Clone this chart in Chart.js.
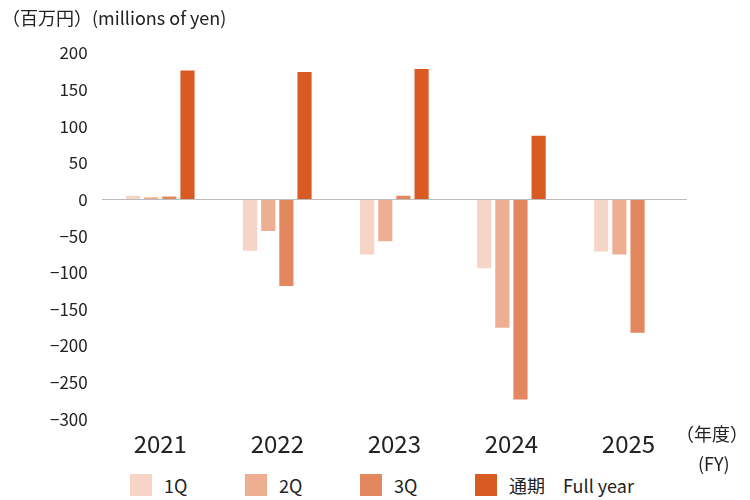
<!DOCTYPE html>
<html><head><meta charset="utf-8">
<script src="https://cdn.jsdelivr.net/npm/chart.js@4"></script>
<style>
body{margin:0;width:750px;height:500px;position:relative;font-family:"Noto Sans CJK JP","Noto Sans",sans-serif;color:#222;background:#fff}
#wrap{position:absolute;left:0;top:0;width:750px;height:460px}
.t{position:absolute;font-size:18px}
.leg{position:absolute;top:472px;font-size:18px;display:flex;align-items:center}
.leg span{display:inline-block;width:22px;height:22px;margin-right:12px}
</style></head><body>
<div id="wrap"><canvas id="myChart"></canvas></div>
<div class="t" style="left:2px;top:4px">（百万円）(millions of yen)</div>
<div class="t" style="left:676px;top:420px">（年度）</div>
<div class="t" style="left:698px;top:450px">(FY)</div>
<div id="legend"></div>
<script>
var years = ['2021', '2022', '2023', '2024', '2025'];
var q1 = [5, -70, -75, -94, -71];
var q2 = [3, -43, -57, -175, -75];
var q3 = [4, -118, 5, -273, -182];
var fullYear = [176, 174, 178, 87, null];
var seriesNames = ['1Q', '2Q', '3Q', '通期　Full year'];
var colors = ['#f6d4c6', '#edae91', '#e3875f', '#d95a22'];

var legendX = [130, 245, 360, 475];
var legendDiv = document.getElementById('legend');
for (let i = 0; i < seriesNames.length; i++) {
    let d = document.createElement('div');
    d.className = 'leg';
    d.style.left = legendX[i] + 'px';
    d.innerHTML = '<span style="background:' + colors[i] + '"></span>' + seriesNames[i];
    legendDiv.appendChild(d);
}

var allData = [q1, q2, q3, fullYear];
var datasets = [];
for (let i = 0; i < 4; i++) {
    datasets.push({
        label: seriesNames[i],
        data: allData[i],
        backgroundColor: colors[i],
        barPercentage: 0.78,
        categoryPercentage: 0.62
    });
}

var ctx = document.getElementById('myChart');
var myChart = new Chart(ctx, {
    type: 'bar',
    data: { labels: years, datasets: datasets },
    options: {
        responsive: true,
        maintainAspectRatio: false,
        animation: false,
        layout: { padding: { top: 53, right: 63, left: 36 } },
        plugins: { legend: { display: false }, tooltip: { enabled: false } },
        scales: {
            x: {
                grid: { display: false },
                border: { display: false },
                ticks: { font: { size: 24, family: 'Noto Sans CJK JP' }, color: '#222', padding: 2 }
            },
            y: {
                min: -300, max: 200,
                grid: {
                    drawTicks: false,
                    color: function (c) { return c.tick.value === 0 ? '#bbb' : 'transparent'; }
                },
                border: { display: false },
                ticks: {
                    stepSize: 50,
                    padding: 14,
                    font: { size: 17, family: 'Noto Sans CJK JP' },
                    color: '#222',
                    callback: function (v) { return v < 0 ? '\u2212' + (-v) : v; }
                }
            }
        }
    }
});
</script>
</body></html>
